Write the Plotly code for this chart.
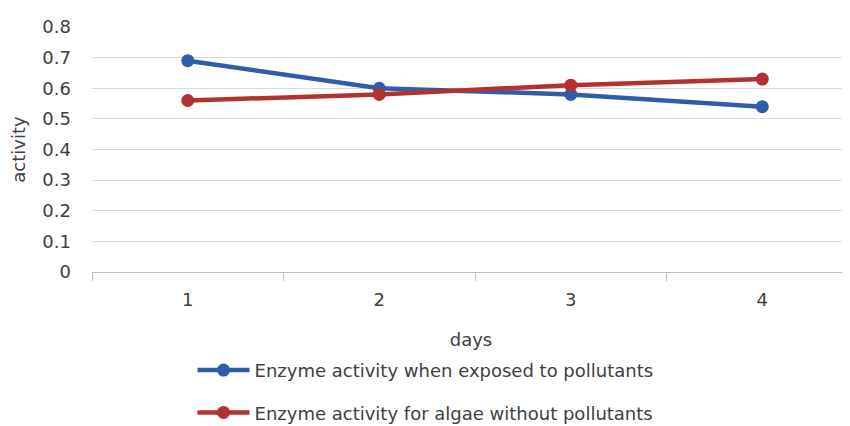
import plotly.graph_objects as go

days = ["1", "2", "3", "4"]
exposed = [0.69, 0.60, 0.58, 0.54]
without = [0.56, 0.58, 0.61, 0.63]
y_ticks = [0, 0.1, 0.2, 0.3, 0.4, 0.5, 0.6, 0.7, 0.8]
y_ticklabels = ["0", "0.1", "0.2", "0.3", "0.4", "0.5", "0.6", "0.7", "0.8"]

BLUE = "#2E5EAA"
RED = "#B3312F"
FONT = "DejaVu Sans"
TXT = "#404040"
FS = 18

fig = go.Figure()
fig.add_trace(go.Scatter(x=days, y=exposed, mode="lines+markers",
                         name="Enzyme activity when exposed to pollutants",
                         line=dict(color=BLUE, width=4.5),
                         marker=dict(color=BLUE, size=13),
                         legendgroup="a"))
fig.add_trace(go.Scatter(x=days, y=without, mode="lines+markers",
                         name="Enzyme activity for algae without pollutants",
                         line=dict(color=RED, width=4.5),
                         marker=dict(color=RED, size=13),
                         legendgroup="b"))

fig.update_layout(
    width=842, height=418,
    margin=dict(l=84, r=0, t=19, b=154, autoexpand=False),
    paper_bgcolor="white", plot_bgcolor="white",
    font=dict(family=FONT, size=FS, color=TXT),
    showlegend=True,
    legend=dict(orientation="v", x=0.1326, xanchor="left", y=-0.326, yanchor="top",
                tracegroupgap=16, font=dict(family=FONT, size=FS, color=TXT),
                bgcolor="rgba(0,0,0,0)", itemwidth=52),
    xaxis=dict(type="category", range=[-0.5, 3.458], tickson="boundaries",
               ticks="outside", ticklen=8, tickcolor="#BFBFBF", tickwidth=1,
               showline=True, linecolor="#BFBFBF", linewidth=1,
               showgrid=False, zeroline=False, automargin=False,
               ticklabelstandoff=11,
               tickfont=dict(family=FONT, size=FS, color=TXT),
               title=dict(text="days", standoff=24, font=dict(family=FONT, size=FS, color=TXT))),
    yaxis=dict(range=[0, 0.8], tickvals=y_ticks, ticktext=y_ticklabels,
               showgrid=True, gridcolor="#D9D9D9", gridwidth=1,
               zeroline=False, showline=False, ticks="", automargin=False,
               ticklabelstandoff=20,
               tickfont=dict(family=FONT, size=FS, color=TXT),
               title=dict(text="activity", standoff=13, font=dict(family=FONT, size=FS, color=TXT))),
)

fig.write_html("out.html")
